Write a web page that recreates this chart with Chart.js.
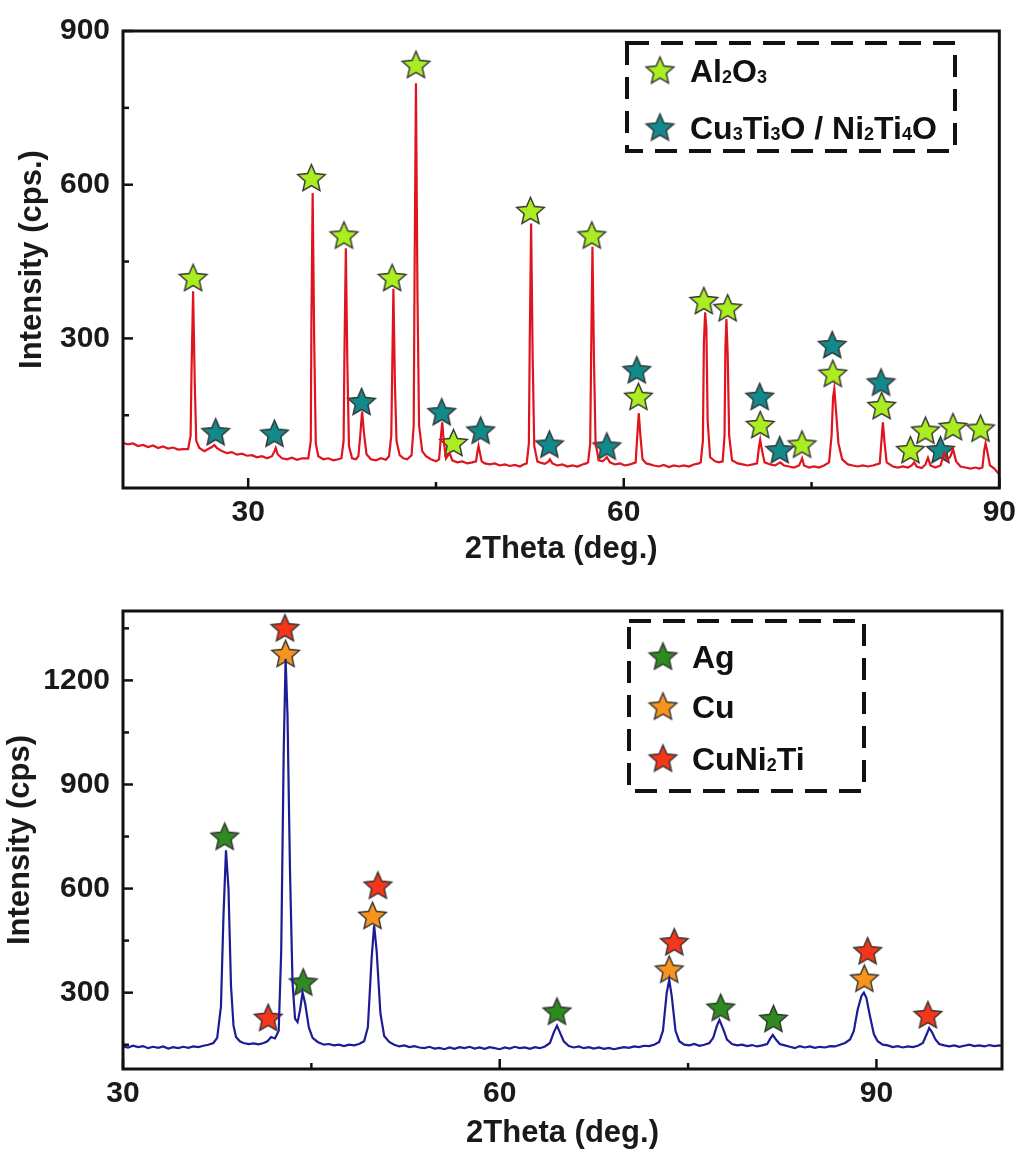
<!DOCTYPE html>
<html>
<head>
<meta charset="utf-8">
<script src="https://cdn.jsdelivr.net/npm/chart.js@4"></script>
<style>
  body { margin: 0; background: #fff; }
  #wrap { position: relative; width: 1023px; height: 1155px; }
  canvas { position: absolute; left: 0; }
  #topChart { top: 0; }
  #bottomChart { top: 580px; }
</style>
</head>
<body>
<div id="wrap">
  <canvas id="topChart" width="1023" height="575"></canvas>
  <canvas id="bottomChart" width="1023" height="575"></canvas>
</div>
<script>
// ---- top panel: red pattern, 2Theta vs intensity ----
const topPattern = [
  [20.0,96],[20.4,93],[20.8,95],[21.2,90],[21.6,92],[22.0,88],[22.4,91],[22.8,86],[23.2,89],[23.6,85],
  [24.0,87],[24.4,83],[24.8,84],[25.2,84],[25.4,110],[25.47,230],[25.6,392],[25.73,215],[25.85,100],[26.1,86],
  [26.5,80],[26.8,84],[27.1,88],[27.3,92],[27.5,86],[27.9,80],[28.3,76],[28.7,78],[29.1,73],[29.5,75],
  [29.9,71],[30.3,72],[30.7,68],[31.1,70],[31.5,66],[31.9,70],[32.1,80],[32.2,86],[32.35,74],[32.7,66],
  [33.1,64],[33.5,67],[33.9,63],[34.3,66],[34.8,66],[35.0,100],[35.05,330],[35.15,584],[35.27,300],[35.4,95],
  [35.6,70],[36.0,64],[36.4,66],[36.8,62],[37.2,64],[37.45,66],[37.62,100],[37.69,270],[37.8,476],[37.92,250],
  [38.05,90],[38.3,66],[38.6,64],[38.8,70],[38.95,110],[39.1,157],[39.25,115],[39.45,74],[39.8,64],[40.2,62],
  [40.6,66],[41.0,63],[41.25,70],[41.43,110],[41.5,230],[41.6,397],[41.72,210],[41.85,100],[42.1,72],[42.4,66],
  [42.7,64],[43.05,72],[43.22,130],[43.29,420],[43.4,798],[43.52,390],[43.65,130],[43.9,80],[44.2,70],[44.6,64],
  [45.0,60],[45.25,64],[45.4,110],[45.5,136],[45.62,100],[45.8,66],[46.1,76],[46.3,62],[46.7,58],[47.1,60],
  [47.5,56],[47.9,58],[48.2,60],[48.32,80],[48.4,90],[48.5,78],[48.65,60],[48.9,56],[49.3,54],[49.7,56],
  [50.1,52],[50.5,54],[50.9,51],[51.3,53],[51.7,50],[52.0,54],[52.25,56],[52.42,95],[52.49,290],[52.6,524],
  [52.72,270],[52.85,90],[53.1,60],[53.4,57],[53.7,55],[54.0,60],[54.1,64],[54.3,56],[54.7,52],[55.1,54],
  [55.5,50],[55.9,52],[56.3,50],[56.7,54],[57.0,56],[57.15,58],[57.32,95],[57.4,280],[57.5,479],[57.62,260],
  [57.75,95],[58.0,62],[58.3,60],[58.5,64],[58.65,68],[58.9,58],[59.3,54],[59.7,56],[60.1,52],[60.5,54],
  [60.95,58],[61.08,110],[61.2,154],[61.33,110],[61.5,64],[61.8,56],[62.1,54],[62.4,52],[62.8,50],[63.2,53],
  [63.6,49],[64.0,52],[64.4,50],[64.8,52],[65.2,50],[65.6,54],[66.0,56],[66.15,58],[66.32,100],[66.4,290],
  [66.5,351],[66.6,320],[66.7,140],[66.9,68],[67.3,60],[67.6,58],[67.9,60],[68.05,110],[68.12,280],[68.2,338],
  [68.3,270],[68.42,110],[68.65,62],[69.1,56],[69.5,54],[69.9,52],[70.3,54],[70.65,56],[70.8,88],[70.9,102],
  [71.02,84],[71.25,58],[71.7,54],[72.1,52],[72.5,58],[72.8,52],[73.2,50],[73.6,48],[74.0,52],[74.15,60],
  [74.25,66],[74.4,52],[74.8,48],[75.2,50],[75.6,48],[76.0,52],[76.4,58],[76.6,110],[76.72,185],[76.82,202],
  [76.95,160],[77.15,95],[77.45,64],[77.9,54],[78.3,52],[78.7,50],[79.1,52],[79.5,50],[79.9,52],[80.2,54],
  [80.45,56],[80.6,105],[80.7,136],[80.82,100],[81.0,58],[81.5,50],[81.9,48],[82.3,50],[82.7,48],[83.0,52],
  [83.2,58],[83.4,50],[83.8,47],[84.1,54],[84.3,67],[84.5,52],[84.9,48],[85.3,52],[85.6,76],[85.85,62],
  [86.1,70],[86.3,84],[86.55,60],[86.9,50],[87.3,48],[87.7,46],[88.1,48],[88.4,46],[88.65,48],[88.8,82],
  [88.9,95],[89.02,82],[89.25,52],[89.6,46],[89.8,40],[90.0,35]
];
const al2o3Peaks = [
  [25.6,419],[35.05,614],[37.65,502],[41.5,419],[43.4,835],[46.4,97],[52.55,550],[57.45,502],
  [61.17,187],[66.4,374],[68.3,360],[70.9,132],[74.24,94],[76.7,232],[80.6,169],[82.9,83],
  [84.1,121],[86.3,128],[88.5,125]
];
const oxidePeaks = [
  [27.4,118],[32.1,115],[39.06,177],[45.46,157],[48.57,121],[54.06,94],[58.65,90],[61.04,239],
  [70.86,187],[72.46,83],[76.65,288],[80.55,215],[85.3,83]
];
const topXTicks = [30, 60, 90];
const topXMinor = [45, 75];
const topYTicks = [300, 600, 900];
const topYMinor = [150, 450, 750];

// ---- bottom panel: blue pattern ----
const bottomPattern = [
  [30.0,145],[30.4,142],[30.8,147],[31.2,143],[31.6,146],[32.0,140],[32.4,144],[32.8,141],[33.2,145],[33.6,139],
  [34.0,143],[34.4,140],[34.8,144],[35.2,141],[35.6,145],[36.0,143],[36.4,147],[36.8,150],[37.2,155],[37.5,170],
  [37.8,260],[38.0,520],[38.2,710],[38.4,600],[38.6,320],[38.8,205],[39.0,172],[39.3,160],[39.6,155],[40.0,152],
  [40.4,154],[40.8,151],[41.2,155],[41.5,160],[41.8,172],[42.1,168],[42.4,190],[42.6,420],[42.8,1000],[42.95,1262],
  [43.1,1100],[43.3,650],[43.5,330],[43.7,225],[43.9,215],[44.1,250],[44.3,300],[44.5,270],[44.8,200],[45.1,170],
  [45.5,158],[46.0,150],[46.4,152],[46.8,148],[47.2,150],[47.6,146],[48.0,150],[48.4,148],[48.8,152],[49.2,160],
  [49.5,200],[49.8,400],[50.0,494],[50.2,420],[50.5,240],[50.8,175],[51.2,158],[51.6,150],[52.0,145],[52.4,148],
  [52.8,143],[53.2,146],[53.6,142],[54.0,140],[54.4,144],[54.8,139],[55.2,141],[55.6,137],[56.0,142],[56.4,138],
  [56.8,143],[57.2,140],[57.6,144],[58.0,139],[58.4,142],[58.8,138],[59.2,143],[59.6,140],[60.0,137],[60.4,142],
  [60.8,139],[61.2,144],[61.6,140],[62.0,142],[62.4,138],[62.8,143],[63.2,140],[63.6,145],[64.0,155],[64.3,185],
  [64.56,205],[64.8,185],[65.1,160],[65.5,146],[65.9,142],[66.3,145],[66.7,140],[67.1,143],[67.5,139],[67.9,142],
  [68.3,138],[68.7,141],[69.1,137],[69.5,140],[69.9,143],[70.3,141],[70.7,145],[71.1,143],[71.5,147],[71.9,146],
  [72.3,150],[72.7,158],[73.0,190],[73.3,300],[73.5,337],[73.7,290],[74.0,190],[74.3,160],[74.7,150],[75.1,148],
  [75.5,152],[75.9,147],[76.3,150],[76.7,155],[77.0,170],[77.3,205],[77.5,221],[77.8,195],[78.1,165],[78.5,152],
  [78.9,148],[79.3,150],[79.7,146],[80.1,149],[80.5,145],[80.9,148],[81.3,152],[81.55,168],[81.75,178],[82.0,165],
  [82.3,152],[82.7,148],[83.1,144],[83.5,140],[83.9,146],[84.3,142],[84.7,145],[85.1,141],[85.5,144],[85.9,142],
  [86.3,146],[86.7,145],[87.1,150],[87.5,155],[87.9,165],[88.2,190],[88.5,250],[88.8,290],[89.0,300],[89.2,285],
  [89.5,230],[89.8,180],[90.1,160],[90.5,150],[90.9,148],[91.3,143],[91.7,146],[92.1,142],[92.5,145],[92.9,143],
  [93.3,147],[93.7,155],[94.0,180],[94.2,198],[94.4,188],[94.7,165],[95.0,152],[95.4,148],[95.8,145],[96.2,148],
  [96.6,144],[97.0,147],[97.4,150],[97.8,146],[98.2,148],[98.6,145],[99.0,149],[99.4,146],[99.8,148],[100.0,147]
];
const agPeaks = [[38.1,751],[44.35,331],[64.56,247],[77.6,258],[81.8,226]];
const cuPeaks = [[42.95,1278],[49.87,523],[73.5,368],[89.04,342]];
const cuni2tiPeaks = [[41.56,229],[42.9,1352],[50.3,610],[73.9,447],[89.3,421],[94.1,237]];
const bottomXTicks = [30, 60, 90];
const bottomXMinor = [45, 75];
const bottomYTicks = [300, 600, 900, 1200];
const bottomYMinor = [150, 450, 750, 1050, 1350];

// star marker drawn once per colour
function starImg(fill, r) {
  const s = Math.ceil(r * 2 + 4);
  const c = document.createElement("canvas");
  c.width = c.height = s;
  const g = c.getContext("2d");
  g.beginPath();
  for (let i = 0; i < 10; i++) {
    const rad = i % 2 ? r * 0.46 : r;
    const a = -Math.PI / 2 + (i * Math.PI) / 5;
    g.lineTo(s / 2 + rad * Math.cos(a), s / 2 + rad * Math.sin(a) + r * 0.1);
  }
  g.closePath();
  g.fillStyle = fill;
  g.fill();
  g.lineWidth = 1.4;
  g.strokeStyle = "#333";
  g.stroke();
  return c;
}

const stars = {
  lime: starImg("#aaee22", 14.5),
  teal: starImg("#12898b", 14.5),
  green: starImg("#2e8b1f", 14.5),
  orange: starImg("#f7941d", 14.5),
  red: starImg("#f5361b", 14.5),
};

const toXY = (arr) => arr.map((p) => ({ x: p[0], y: p[1] }));

// frame + inward ticks
const frameTicks = {
  id: "frameTicks",
  afterDatasetsDraw(chart, args, o) {
    const { ctx, chartArea: a, scales } = chart;
    ctx.save();
    ctx.strokeStyle = "#111";
    ctx.lineWidth = 2.5;
    const tx = (vals, len) => vals.forEach((v) => {
      const p = scales.x.getPixelForValue(v);
      ctx.beginPath(); ctx.moveTo(p, a.bottom); ctx.lineTo(p, a.bottom - len); ctx.stroke();
    });
    const ty = (vals, len) => vals.forEach((v) => {
      const p = scales.y.getPixelForValue(v);
      ctx.beginPath(); ctx.moveTo(a.left, p); ctx.lineTo(a.left + len, p); ctx.stroke();
    });
    tx(o.xMajor, 10); tx(o.xMinor, 6);
    ty(o.yMajor, 10); ty(o.yMinor, 6);
    ctx.lineWidth = 3;
    ctx.strokeRect(a.left, a.top, a.width, a.height);
    ctx.restore();
  },
};

// dashed legend box with subscripted labels
const boxLegend = {
  id: "boxLegend",
  afterDraw(chart, args, o) {
    const ctx = chart.ctx;
    ctx.save();
    ctx.setLineDash([22, 12]);
    ctx.lineWidth = 4;
    ctx.strokeStyle = "#111";
    ctx.strokeRect(o.box[0], o.box[1], o.box[2], o.box[3]);
    ctx.setLineDash([]);
    o.items.forEach((it) => {
      const img = stars[it.star];
      ctx.drawImage(img, o.starX - img.width / 2, it.y - img.height / 2);
      let x = o.textX;
      const base = it.y + 11.5;
      ctx.fillStyle = "#111";
      ctx.textBaseline = "alphabetic";
      it.parts.forEach((p) => {
        const sub = /^[0-9]$/.test(p);
        ctx.font = sub ? "bold 18px 'Liberation Sans', Arial, sans-serif" : "bold 32px 'Liberation Sans', Arial, sans-serif";
        ctx.fillText(p, x, sub ? base + 1 : base);
        x += ctx.measureText(p).width;
      });
    });
    ctx.restore();
  },
};

const tickFont = { family: "'Liberation Sans', Arial, sans-serif", weight: "bold", size: 30 };
const titleFont = { family: "'Liberation Sans', Arial, sans-serif", weight: "bold", size: 31 };

function scales(xMin, xMax, xTicks, yMin, yMax, yTicks, xTitle, yTitle, xHeight, xTitlePad, yTitlePad) {
  return {
    x: {
      type: "linear", min: xMin, max: xMax,
      afterBuildTicks: (s) => { s.ticks = xTicks.map((v) => ({ value: v })); },
      afterFit: (s) => { s.height = xHeight; },
      grid: { display: false, drawTicks: false },
      border: { display: false },
      ticks: { font: tickFont, color: "#1a1a1a", padding: 7, maxRotation: 0, callback: (v) => String(v) },
      title: { display: true, text: xTitle, font: titleFont, color: "#1a1a1a", padding: { top: 0, bottom: xTitlePad } },
    },
    y: {
      type: "linear", min: yMin, max: yMax,
      afterBuildTicks: (s) => { s.ticks = yTicks.map((v) => ({ value: v })); },
      afterFit: (s) => { s.width = 123; },
      grid: { display: false, drawTicks: false },
      border: { display: false },
      ticks: { font: tickFont, color: "#1a1a1a", padding: 13, callback: (v) => String(v) },
      title: { display: true, text: yTitle, font: titleFont, color: "#1a1a1a", padding: { top: yTitlePad, bottom: 0 } },
    },
  };
}

function starSet(points, img) {
  return { type: "scatter", data: toXY(points), pointStyle: img, pointRadius: 14, showLine: false, clip: false };
}

new Chart(document.getElementById("topChart"), {
  type: "line",
  data: {
    datasets: [
      { data: toXY(topPattern), borderColor: "#e0141e", borderWidth: 2.2, pointRadius: 0, tension: 0, fill: false },
      starSet(oxidePeaks, stars.teal),
      starSet(al2o3Peaks, stars.lime),
    ],
  },
  options: {
    responsive: false,
    animation: false,
    events: [],
    layout: { padding: { left: 0, right: 21, top: 27, bottom: 0 } },
    scales: scales(20, 90, topXTicks, 8, 900, topYTicks, "2Theta (deg.)", "Intensity (cps.)", 87, 7.4, 13.4),
    plugins: {
      legend: { display: false },
      tooltip: { enabled: false },
      frameTicks: { xMajor: topXTicks, xMinor: topXMinor, yMajor: topYTicks, yMinor: topYMinor },
      boxLegend: {
        box: [627, 43, 328, 108], starX: 660, textX: 690,
        items: [
          { star: "lime", y: 70, parts: ["Al", "2", "O", "3"] },
          { star: "teal", y: 127, parts: ["Cu", "3", "Ti", "3", "O / Ni", "2", "Ti", "4", "O"] },
        ],
      },
    },
  },
  plugins: [frameTicks, boxLegend],
});

new Chart(document.getElementById("bottomChart"), {
  type: "line",
  data: {
    datasets: [
      { data: toXY(bottomPattern), borderColor: "#1c1c94", borderWidth: 2.2, pointRadius: 0, tension: 0, fill: false },
      starSet(agPeaks, stars.green),
      starSet(cuPeaks, stars.orange),
      starSet(cuni2tiPeaks, stars.red),
    ],
  },
  options: {
    responsive: false,
    animation: false,
    events: [],
    layout: { padding: { left: 0, right: 21, top: 27, bottom: 0 } },
    scales: scales(30, 100, bottomXTicks, 80, 1400, bottomYTicks, "2Theta (deg.)", "Intensity (cps)", 86, 3.4, 1.4),
    plugins: {
      legend: { display: false },
      tooltip: { enabled: false },
      frameTicks: { xMajor: bottomXTicks, xMinor: bottomXMinor, yMajor: bottomYTicks, yMinor: bottomYMinor },
      boxLegend: {
        box: [629, 41, 235, 170], starX: 663, textX: 692,
        items: [
          { star: "green", y: 76, parts: ["Ag"] },
          { star: "orange", y: 126, parts: ["Cu"] },
          { star: "red", y: 178, parts: ["CuNi", "2", "Ti"] },
        ],
      },
    },
  },
  plugins: [frameTicks, boxLegend],
});
</script>
</body>
</html>
